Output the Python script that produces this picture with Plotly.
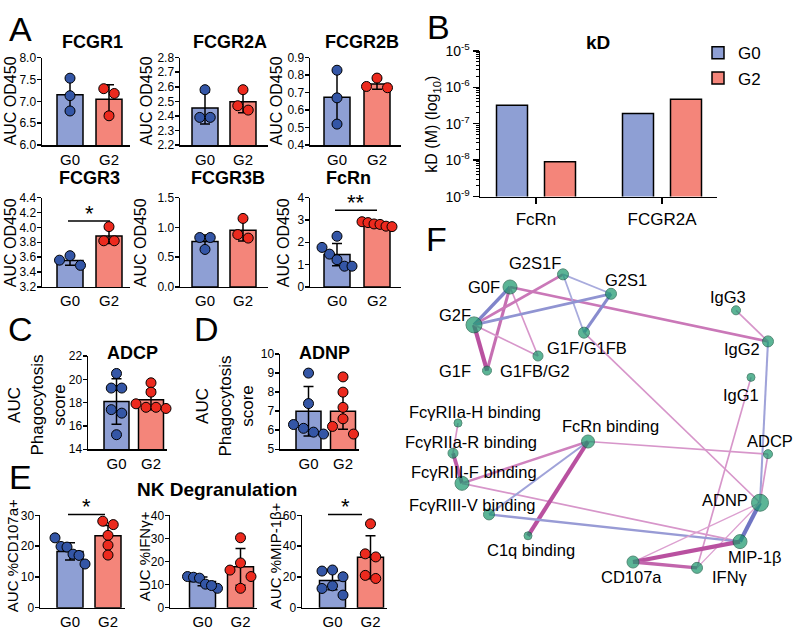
import numpy as np
import plotly.graph_objects as go

W, H = 800, 640
FONT = "Arial, 'Liberation Sans', Helvetica, sans-serif"

groups = ["G0", "G2"]

# ---------------- Panel A data ----------------
fcgr1_g0 = [7.53, 7.13, 6.78]
fcgr1_g2 = [7.29, 7.18, 6.67]
fcgr1_mean = [7.15, 7.05]
fcgr1_sd = [0.38, 0.33]

fcgr2a_g0 = [2.58, 2.39, 2.39]
fcgr2a_g2 = [2.58, 2.44, 2.47]
fcgr2a_mean = [2.455, 2.497]
fcgr2a_sd = [0.11, 0.075]

fcgr2b_g0 = [0.828, 0.67, 0.52]
fcgr2b_g2 = [0.783, 0.728, 0.735]
fcgr2b_mean = [0.673, 0.749]
fcgr2b_sd = [0.154, 0.03]

fcgr3_g0 = [3.62, 3.56, 3.49]
fcgr3_g2 = [4.01, 3.82, 3.82]
fcgr3_mean = [3.557, 3.885]
fcgr3_sd = [0.065, 0.10]

fcgr3b_g0 = [0.83, 0.83, 0.63]
fcgr3b_g2 = [1.15, 0.82, 0.88]
fcgr3b_mean = [0.763, 0.95]
fcgr3b_sd = [0.11, 0.18]

fcrn_g0 = [2.27, 1.77, 1.47, 1.22, 0.93, 0.93]
fcrn_g2 = [2.92, 2.88, 2.82, 2.80, 2.72, 2.70]
fcrn_mean = [1.45, 2.80]
fcrn_sd = [0.50, 0.09]

# ---------------- Panel B data ----------------
kd_receptors = ["FcRn", "FCGR2A"]
kd_g0 = [3.2e-7, 1.9e-7]
kd_g2 = [9.0e-9, 4.7e-7]
kd_ticks = [1e-9, 1e-8, 1e-7, 1e-6, 1e-5]
kd_ticktext = ["10<sup>-9</sup>", "10<sup>-8</sup>", "10<sup>-7</sup>", "10<sup>-6</sup>", "10<sup>-5</sup>"]

# ---------------- Panel C / D data ----------------
adcp_g0 = [20.5, 19.25, 19.25, 17.4, 17.1, 15.25]
adcp_g2 = [19.7, 18.9, 17.9, 17.6, 17.5, 17.6]
adcp_mean = [18.1, 18.25]
adcp_sd = [1.95, 0.85]

adnp_g0 = [9.0, 7.4, 6.3, 6.1, 5.8, 5.9]
adnp_g2 = [8.8, 8.0, 7.2, 6.6, 6.2, 5.8]
adnp_mean = [7.0, 7.0]
adnp_sd = [1.3, 0.95]

# ---------------- Panel E data ----------------
cd107a_g0 = [22.7, 19.9, 19.7, 17.4, 17.0, 14.2]
cd107a_g2 = [28.1, 27.0, 23.5, 20.3, 17.1]
cd107a_mean = [18.3, 23.4]
cd107a_sd = [2.8, 3.3]

ifng_g0 = [13.5, 13.2, 12.8, 10.2, 8.4, 9.6]
ifng_g2 = [30.3, 19.4, 16.3, 13.5, 8.4]
ifng_mean = [11.4, 17.7]
ifng_sd = [1.9, 8.0]

mip_g0 = [24.5, 23.8, 20.1, 14.2, 12.5, 8.2]
mip_g2 = [54.5, 35.0, 33.0, 21.0, 19.0]
mip_mean = [17.7, 32.8]
mip_sd = [6.0, 14.0]

# ---------------- Panel F data (network) ----------------
node_names = ["G0F", "G2S1F", "G2S1", "IgG3", "G2F", "G1F/G1FB", "IgG2", "G1F", "G1FB/G2",
              "IgG1", "FcγRIIa-H binding", "FcRn binding", "FcγRIIa-R binding", "ADCP",
              "FcγRIII-F binding", "ADNP", "FcγRIII-V binding", "C1q binding", "MIP-1β",
              "CD107a", "IFNγ"]
node_x = [510, 563, 611, 736, 474, 584, 768, 487, 538, 751, 458, 588, 453, 768, 462, 760, 489, 528, 740, 633, 697]
node_y = [285, 272, 292, 309, 324, 332, 341, 371, 356, 378, 425, 444, 456, 457, 487, 507, 519, 541, 547, 568, 574]
edge_src = ["G0F", "G0F", "G0F", "G0F", "G2S1F", "G2S1F", "G2S1F", "G2S1", "G2S1", "G2F", "G2F",
            "G1F/G1FB", "IgG3", "IgG2", "IgG1", "FcγRIIa-H binding", "FcγRIIa-R binding",
            "FcγRIII-F binding", "FcγRIII-F binding", "FcRn binding", "FcRn binding", "FcRn binding",
            "FcγRIII-V binding", "ADCP", "ADNP", "ADNP", "ADNP", "CD107a", "CD107a"]
edge_dst = ["G2F", "G1F", "G1FB/G2", "IgG2", "G2F", "G2S1", "G1F/G1FB", "G2F", "G1F/G1FB", "G1F", "G1FB/G2",
            "ADNP", "IgG2", "ADNP", "IFNγ", "FcγRIIa-R binding", "FcγRIII-F binding",
            "FcRn binding", "MIP-1β", "FcγRIII-V binding", "C1q binding", "ADCP",
            "MIP-1β", "ADNP", "MIP-1β", "CD107a", "IFNγ", "MIP-1β", "IFNγ"]
edge_weight = [-0.85, 0.8, 0.6, 0.75, 0.75, -0.6, -0.6, -0.75, -0.8, 0.95, 0.6,
               0.6, 0.6, -0.65, 0.6, 0.6, 0.9,
               0.7, 0.6, -0.65, 0.95, 0.6,
               -0.7, 0.6, -0.95, 0.55, 0.55, 0.95, 0.85]

# ---------------- styles ----------------
BAR_BLUE, BAR_RED = "#8E9FD4", "#F4857A"
PT_BLUE, PT_RED = "#3456A6", "#EC2A1E"
NODE_GREEN = "#17976B"
node_size = [14, 11, 11, 9, 16, 11, 11, 9, 10, 8, 8, 13, 10, 9, 14, 17, 11, 8, 14, 12, 11]
# label offsets (dx, dy, xanchor)
node_label = {
    "G0F": (-8, 0, "right"), "G2S1F": (0, -12, "right"), "G2S1": (-8, -14, "left"),
    "IgG3": (-8, -14, "center"), "G2F": (-1, -10, "right"), "G1F/G1FB": (3, 16, "center"),
    "IgG2": (-6, 8, "right"), "G1F": (-14, 0, "right"), "G1FB/G2": (-3, 15, "center"),
    "IgG1": (-10, 18, "center"), "FcγRIIa-H binding": (85, -11, "right"),
    "FcRn binding": (22, -16, "center"), "FcγRIIa-R binding": (86, -12, "right"),
    "ADCP": (2, -14, "center"), "FcγRIII-F binding": (77, -12, "right"),
    "ADNP": (-10, -3, "right"), "FcγRIII-V binding": (49, -10, "right"),
    "C1q binding": (3, 15, "center"), "MIP-1β": (15, 16, "center"),
    "CD107a": (-2, 15, "center"), "IFNγ": (13, 9, "left"),
}


def px(xp):
    return xp / W


def py(yp):
    return 1 - yp / H


def ref(prefix, i):
    return prefix if i == 1 else f"{prefix}{i}"


def swarm(vals, ppu, diam=10.0):
    """simple column-scatter layout: offsets in px"""
    order = sorted(range(len(vals)), key=lambda k: -vals[k])
    rows, cur = [], [order[0]]
    for a, b in zip(order[:-1], order[1:]):
        if (vals[a] - vals[b]) * ppu < 0.9 * diam:
            cur.append(b)
        else:
            rows.append(cur)
            cur = [b]
    rows.append(cur)
    offs = [0.0] * len(vals)
    for r in rows:
        n = len(r)
        if n == 1:
            continue
        sp = min(diam * 1.05, 30.0 / (n - 1))
        pos = [(j - (n - 1) / 2) * sp for j in range(n)]
        seq = [pos[k] for k in ([1, 0, 2] if n == 3 else range(n))]
        for idx, p in zip(r, seq):
            offs[idx] = p
    return offs


fig = go.Figure()
layout = dict(width=W, height=H, margin=dict(l=0, r=0, t=0, b=0), plot_bgcolor="rgba(0,0,0,0)",
              paper_bgcolor="white", barmode="overlay", font=dict(family=FONT, color="black"),
              showlegend=True)
annotations = []
shapes = []

bar_panels = [
    dict(title="FCGR1", g0=fcgr1_g0, g2=fcgr1_g2, mean=fcgr1_mean, sd=fcgr1_sd, yr=(6.0, 8.0), dt=0.5, fmt=".1f", ylab="AUC OD450"),
    dict(title="FCGR2A", g0=fcgr2a_g0, g2=fcgr2a_g2, mean=fcgr2a_mean, sd=fcgr2a_sd, yr=(2.2, 2.8), dt=0.1, fmt=".1f", ylab="AUC OD450"),
    dict(title="FCGR2B", g0=fcgr2b_g0, g2=fcgr2b_g2, mean=fcgr2b_mean, sd=fcgr2b_sd, yr=(0.4, 0.9), dt=0.1, fmt=".1f", ylab="AUC OD450"),
    dict(title="FCGR3", g0=fcgr3_g0, g2=fcgr3_g2, mean=fcgr3_mean, sd=fcgr3_sd, yr=(3.2, 4.4), dt=0.2, fmt=".1f", ylab="AUC OD450"),
    dict(title="FCGR3B", g0=fcgr3b_g0, g2=fcgr3b_g2, mean=fcgr3b_mean, sd=fcgr3b_sd, yr=(0.0, 1.5), dt=0.5, fmt=".1f", ylab="AUC OD450"),
    dict(title="FcRn", g0=fcrn_g0, g2=fcrn_g2, mean=fcrn_mean, sd=fcrn_sd, yr=(0, 4), dt=1, fmt="d", ylab="AUC OD450"),
    dict(title="ADCP", g0=adcp_g0, g2=adcp_g2, mean=adcp_mean, sd=adcp_sd, yr=(14, 22), dt=2, fmt="d", ylab="AUC<br>Phagocytosis<br>score"),
    dict(title="ADNP", g0=adnp_g0, g2=adnp_g2, mean=adnp_mean, sd=adnp_sd, yr=(5, 10), dt=1, fmt="d", ylab="AUC<br>Phagocytosis<br>score"),
    dict(title="", g0=cd107a_g0, g2=cd107a_g2, mean=cd107a_mean, sd=cd107a_sd, yr=(0, 30), dt=10, fmt="d", ylab="AUC %CD107a+"),
    dict(title="", g0=ifng_g0, g2=ifng_g2, mean=ifng_mean, sd=ifng_sd, yr=(0, 40), dt=10, fmt="d", ylab="AUC %IFNγ+"),
    dict(title="", g0=mip_g0, g2=mip_g2, mean=mip_mean, sd=mip_sd, yr=(0, 60), dt=20, fmt="d", ylab="AUC %MIP-1β+"),
]
# boxes: x0, x1, y0, y1, c0, c1, barwidth px, title (x,y), ylabel (x,y), ylabel size
boxes = [
    (42, 130, 49, 139, 70, 109, 26, (92, 33), (10, 94), 16),
    (180, 268, 49, 139, 205, 243, 26, (230, 33), (146, 94), 16),
    (310, 401, 49, 139, 337, 377, 26, (362, 33), (276, 94), 16),
    (42, 130, 193, 285, 70, 109, 26, (89, 173), (10, 240), 16),
    (180, 268, 193, 285, 205, 243, 26, (228, 173), (140, 240), 16),
    (310, 401, 193, 285, 337, 377, 26, (348, 173), (283, 240), 16),
    (88, 167, 356, 452, 116.5, 151, 25, (132, 353), (37, 407), 17),
    (280, 359, 354, 452, 308.5, 343, 25, (324, 353), (225, 408), 17),
    (40, 125, 520, 615, 70, 108, 26, None, (12, 562), 15),
    (170, 257, 520, 615, 202.5, 240.5, 26, None, (144, 562), 15),
    (302, 387, 520, 615, 332.5, 370.5, 26, None, (275, 562), 15),
]

axis_line = dict(showline=True, linecolor="black", linewidth=1.5, showgrid=False, zeroline=False, fixedrange=True)

for i, (p, b) in enumerate(zip(bar_panels, boxes), start=1):
    x0, x1, y0, y1, c0, c1, wpx, tpos, lpos, lsize = b
    k = c1 - c0
    r0 = -(c0 - x0) / k
    r1 = r0 + (x1 - x0) / k
    ymin, ymax = p["yr"]
    ntick = int(round((ymax - ymin) / p["dt"]))
    tv = [round(ymin + j * p["dt"], 6) for j in range(ntick + 1)]
    layout[ref("xaxis", i)] = dict(domain=[px(x0), px(x1)], range=[r0, r1], anchor=ref("y", i),
                                   tickvals=[0, 1], ticktext=groups, ticks="",
                                   tickfont=dict(size=15, color="black"), **axis_line)
    layout[ref("yaxis", i)] = dict(domain=[py(y1), py(y0)], range=[ymin, ymax], anchor=ref("x", i),
                                   tickvals=tv, tickformat=p["fmt"],
                                   ticks="outside", ticklen=4, tickwidth=1.5, tickcolor="black",
                                   ticklabelstandoff=-2,
                                   tickfont=dict(size=12, color="black"), **axis_line)
    xr, yr_ = ref("x", i), ref("y", i)
    fig.add_trace(go.Bar(x=[0, 1], y=p["mean"], width=wpx / k, xaxis=xr, yaxis=yr_,
                         marker=dict(color=[BAR_BLUE, BAR_RED], line=dict(color="black", width=1.5)),
                         error_y=dict(type="data", array=p["sd"], color="black", thickness=1.5, width=5),
                         showlegend=False, hoverinfo="skip"))
    ppu = (y1 - y0) / (ymax - ymin)
    for gi, (vals, col) in enumerate(((p["g0"], PT_BLUE), (p["g2"], PT_RED))):
        offs = swarm(vals, ppu)
        fig.add_trace(go.Scatter(x=[gi + o / k for o in offs], y=vals, mode="markers", xaxis=xr, yaxis=yr_,
                                 marker=dict(size=10, color=col, line=dict(color="black", width=1)),
                                 cliponaxis=False, showlegend=False, hoverinfo="skip"))
    if tpos and p["title"]:
        annotations.append(dict(x=px(tpos[0]), y=py(tpos[1]), xref="paper", yref="paper", text=f"<b>{p['title']}</b>",
                                showarrow=False, font=dict(size=18), xanchor="center", yanchor="middle"))
    annotations.append(dict(x=px(lpos[0]), y=py(lpos[1]), xref="paper", yref="paper", text=p["ylab"],
                            textangle=-90, showarrow=False, font=dict(size=lsize), xanchor="center", yanchor="middle"))

# ---------------- Panel B ----------------
bi = len(bar_panels) + 1
bx0, bx1, by0, by1, bc0, bc1 = 480, 717, 42, 192, 536, 662
bk = bc1 - bc0
br0 = -(bc0 - bx0) / bk
br1 = br0 + (bx1 - bx0) / bk
bw = 31 / bk
boff = 24 / bk
layout[ref("xaxis", bi)] = dict(domain=[px(bx0), px(bx1)], range=[br0, br1], anchor=ref("y", bi),
                                tickvals=[0, 1], ticktext=kd_receptors, ticks="outside", ticklen=6, tickwidth=1.5,
                                tickcolor="black", tickfont=dict(size=17, color="black"), **axis_line)
layout[ref("yaxis", bi)] = dict(domain=[py(by1), py(by0)], type="log", range=[-9, -5], anchor=ref("x", bi),
                                tickvals=kd_ticks, ticktext=kd_ticktext, ticks="outside", ticklen=6, tickwidth=1.5,
                                tickcolor="black", tickfont=dict(size=14, color="black"), **axis_line)
minor_vals = [m * 10.0 ** e for e in range(-9, -5) for m in range(2, 10)]
mi = bi + 1
layout[ref("yaxis", mi)] = dict(overlaying=ref("y", bi), anchor=ref("x", bi), side="left", type="log", range=[-9, -5],
                                tickvals=minor_vals, ticks="outside", ticklen=3, tickwidth=1, tickcolor="black",
                                showticklabels=False, showline=False, showgrid=False, zeroline=False, fixedrange=True)
fig.add_trace(go.Bar(x=[0, 1], y=kd_g0, width=bw, offset=-boff - bw / 2, name="G0", xaxis=ref("x", bi), yaxis=ref("y", bi),
                     marker=dict(color=BAR_BLUE, line=dict(color="black", width=1.5)), hoverinfo="skip"))
fig.add_trace(go.Bar(x=[0, 1], y=kd_g2, width=bw, offset=boff - bw / 2, name="G2", xaxis=ref("x", bi), yaxis=ref("y", bi),
                     marker=dict(color=BAR_RED, line=dict(color="black", width=1.5)), hoverinfo="skip"))
fig.add_trace(go.Scatter(x=[None], y=[None], xaxis=ref("x", bi), yaxis=ref("y", mi), showlegend=False, hoverinfo="skip"))
annotations.append(dict(x=px(598), y=py(33), xref="paper", yref="paper", text="<b>kD</b>", showarrow=False,
                        font=dict(size=19), xanchor="center", yanchor="middle"))
annotations.append(dict(x=px(433), y=py(118), xref="paper", yref="paper", text="kD (M) (log<sub>10</sub>)",
                        textangle=-90, showarrow=False, font=dict(size=16), xanchor="center", yanchor="middle"))
layout["legend"] = dict(x=px(698), y=py(26), xanchor="left", yanchor="top", font=dict(size=17),
                        bgcolor="rgba(0,0,0,0)", itemclick=False, tracegroupgap=0)

# ---------------- Panel F (network) ----------------
fi = mi + 1
fx0, fx1, fy0, fy1 = 395, 800, 255, 600
layout[ref("xaxis", fi)] = dict(domain=[px(fx0), px(fx1)], range=[fx0, fx1], visible=False, anchor=ref("y", fi), fixedrange=True)
layout[ref("yaxis", fi)] = dict(domain=[py(fy1), py(fy0)], range=[fy1, fy0], visible=False, anchor=ref("x", fi), fixedrange=True)
pos = {n: (x, y) for n, x, y in zip(node_names, node_x, node_y)}


def mix(c1, c2, t):
    a = [int(c1[j:j + 2], 16) for j in (1, 3, 5)]
    b = [int(c2[j:j + 2], 16) for j in (1, 3, 5)]
    return "#" + "".join(f"{int(round(u + (v - u) * t)):02x}" for u, v in zip(a, b))


for s, d, w in zip(edge_src, edge_dst, edge_weight):
    t = min(max((abs(w) - 0.5) / 0.5, 0), 1)
    col = mix("#E0AAD6", "#B5479A", t) if w > 0 else mix("#B8BAE4", "#686DBF", t)
    fig.add_trace(go.Scatter(x=[pos[s][0], pos[d][0]], y=[pos[s][1], pos[d][1]], mode="lines",
                             line=dict(color=col, width=1.0 + 3.5 * t), xaxis=ref("x", fi), yaxis=ref("y", fi),
                             showlegend=False, hoverinfo="skip"))
fig.add_trace(go.Scatter(x=node_x, y=node_y, mode="markers", xaxis=ref("x", fi), yaxis=ref("y", fi),
                         marker=dict(size=node_size, color=NODE_GREEN, line=dict(color="#0C5B3E", width=1)),
                         cliponaxis=False, showlegend=False, hoverinfo="skip"))
for n, x, y in zip(node_names, node_x, node_y):
    dx, dy, xa = node_label[n]
    annotations.append(dict(x=x + dx, y=y + dy, xref=ref("x", fi), yref=ref("y", fi), text=n, showarrow=False,
                            font=dict(size=16.5), xanchor=xa, yanchor="middle"))

# ---------------- panel letters, extra titles, significance ----------------
for letter, (lx, ly) in zip("ABCDEF", [(20, 20), (438, 18), (20, 328), (206, 328), (20, 481), (436, 236)]):
    annotations.append(dict(x=px(lx), y=py(ly), xref="paper", yref="paper", text=letter, showarrow=False,
                            font=dict(size=34), xanchor="center", yanchor="middle"))
annotations.append(dict(x=px(217), y=py(493), xref="paper", yref="paper", text="<b>NK Degranulation</b>",
                        showarrow=False, font=dict(size=19), xanchor="center", yanchor="middle"))
sig = [((68, 110), 217, "*"), ((335, 377), 206, "**"), ((68, 105), 519, "*"), ((328, 362), 519, "*")]
for (sx0, sx1), sy, txt in sig:
    shapes.append(dict(type="line", xref="paper", yref="paper", x0=px(sx0), x1=px(sx1), y0=py(sy), y1=py(sy),
                       line=dict(color="black", width=1.5)))
    annotations.append(dict(x=px((sx0 + sx1) / 2), y=py(sy - 8), xref="paper", yref="paper", text=txt,
                            showarrow=False, font=dict(size=22), xanchor="center", yanchor="middle"))

layout["annotations"] = annotations
layout["shapes"] = shapes
fig.update_layout(**layout)
fig.write_html("out.html", config={"displayModeBar": False, "staticPlot": True},
               post_script="document.body.style.margin='0';document.body.style.padding='0';"
                           "document.documentElement.style.overflow='hidden';")
